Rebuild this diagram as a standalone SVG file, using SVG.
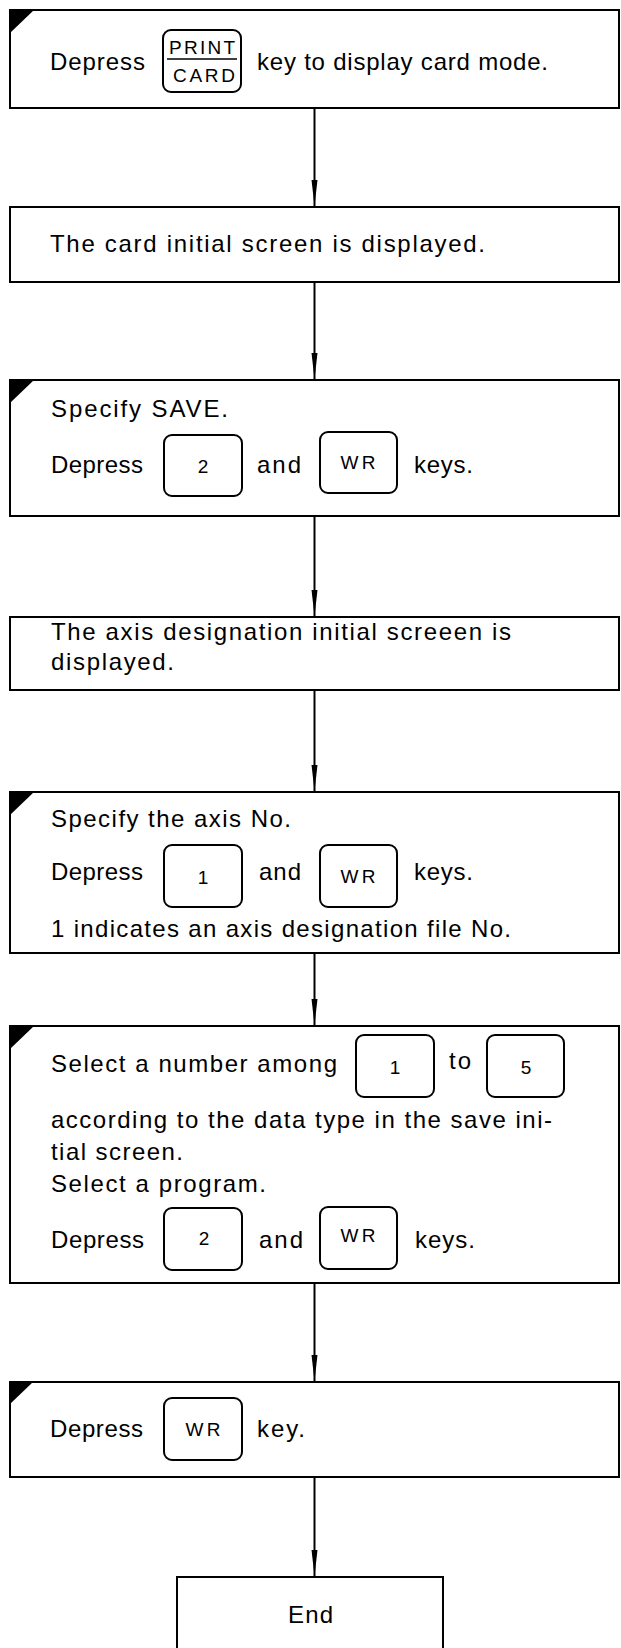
<svg xmlns="http://www.w3.org/2000/svg" width="621" height="1648" viewBox="0 0 621 1648">
  <style>
    .box { fill: #fff; stroke: #000; stroke-width: 2; }
    .key { fill: #fff; stroke: #000; stroke-width: 2; }
    .corner { fill: #000; }
    .t { font-family: "Liberation Sans", Arial, Helvetica, sans-serif; font-size: 24px; fill: #000; }
    .k { font-family: "Liberation Sans", Arial, Helvetica, sans-serif; font-size: 19px; fill: #000; text-anchor: middle; }
    .wire { stroke: #000; stroke-width: 2; fill: none; marker-end: url(#head); }
  </style>
  <defs>
    <marker id="head" markerUnits="userSpaceOnUse" viewBox="0 0 26 8" refX="26" refY="4" markerWidth="26" markerHeight="8" orient="auto">
      <path d="M0,1 L26,4 L0,7 Z" fill="#000"/>
    </marker>
  </defs>

  <rect width="621" height="1648" fill="#fff"/>

  <!-- connectors -->
  <g id="connectors">
    <line class="wire" x1="314.5" y1="108" x2="314.5" y2="206"/>
    <line class="wire" x1="314.5" y1="282" x2="314.5" y2="379"/>
    <line class="wire" x1="314.5" y1="516" x2="314.5" y2="616"/>
    <line class="wire" x1="314.5" y1="690" x2="314.5" y2="791"/>
    <line class="wire" x1="314.5" y1="953" x2="314.5" y2="1025"/>
    <line class="wire" x1="314.5" y1="1283" x2="314.5" y2="1381"/>
    <line class="wire" x1="314.5" y1="1477" x2="314.5" y2="1576"/>
  </g>

  <!-- step 1 -->
  <g id="step-print-card">
    <rect class="box" x="10" y="10" width="609" height="98"/>
    <path class="corner" d="M10,10 H34 L10,33 Z"/>
    <text class="t" x="50" y="70" textLength="95" lengthAdjust="spacing">Depress</text>
    <rect class="key" x="163" y="30" width="78" height="62" rx="8"/>
    <text class="k" x="202" y="54" textLength="66" lengthAdjust="spacing">PRINT</text>
    <line x1="167" y1="59" x2="237" y2="59" stroke="#000" stroke-width="1.5"/>
    <text class="k" x="204" y="82" textLength="62" lengthAdjust="spacing">CARD</text>
    <text class="t" x="257" y="70" textLength="291" lengthAdjust="spacing">key to display card mode.</text>
  </g>

  <!-- step 2 -->
  <g id="step-card-screen">
    <rect class="box" x="10" y="207" width="609" height="75"/>
    <text class="t" x="50" y="252" textLength="435" lengthAdjust="spacing">The card initial screen is displayed.</text>
  </g>

  <!-- step 3 -->
  <g id="step-save">
    <rect class="box" x="10" y="380" width="609" height="136"/>
    <path class="corner" d="M10,380 H34 L10,403 Z"/>
    <text class="t" x="51" y="417" textLength="177" lengthAdjust="spacing">Specify SAVE.</text>
    <text class="t" x="51" y="473" textLength="92" lengthAdjust="spacing">Depress</text>
    <rect class="key" x="164" y="435" width="78" height="61" rx="8"/>
    <text class="k" x="203" y="473">2</text>
    <text class="t" x="257" y="473" textLength="44" lengthAdjust="spacing">and</text>
    <rect class="key" x="320" y="432" width="77" height="61" rx="8"/>
    <text class="k" x="358" y="469" textLength="35" lengthAdjust="spacing">WR</text>
    <text class="t" x="414" y="473" textLength="59" lengthAdjust="spacing">keys.</text>
  </g>

  <!-- step 4 -->
  <g id="step-axis-screen">
    <rect class="box" x="10" y="617" width="609" height="73"/>
    <text class="t" x="51" y="640" textLength="460" lengthAdjust="spacing">The axis designation initial screeen is</text>
    <text class="t" x="51" y="670" textLength="123" lengthAdjust="spacing">displayed.</text>
  </g>

  <!-- step 5 -->
  <g id="step-axis-no">
    <rect class="box" x="10" y="792" width="609" height="161"/>
    <path class="corner" d="M10,792 H34 L10,815 Z"/>
    <text class="t" x="51" y="827" textLength="240" lengthAdjust="spacing">Specify the axis No.</text>
    <text class="t" x="51" y="880" textLength="92" lengthAdjust="spacing">Depress</text>
    <rect class="key" x="164" y="845" width="78" height="62" rx="8"/>
    <text class="k" x="203" y="884">1</text>
    <text class="t" x="259" y="880" textLength="42" lengthAdjust="spacing">and</text>
    <rect class="key" x="320" y="845" width="77" height="62" rx="8"/>
    <text class="k" x="358" y="883" textLength="35" lengthAdjust="spacing">WR</text>
    <text class="t" x="414" y="880" textLength="59" lengthAdjust="spacing">keys.</text>
    <text class="t" x="51" y="937" textLength="460" lengthAdjust="spacing">1 indicates an axis designation file No.</text>
  </g>

  <!-- step 6 -->
  <g id="step-data-type">
    <rect class="box" x="10" y="1026" width="609" height="257"/>
    <path class="corner" d="M10,1026 H34 L10,1049 Z"/>
    <text class="t" x="51" y="1072" textLength="286" lengthAdjust="spacing">Select a number among</text>
    <rect class="key" x="356" y="1035" width="78" height="62" rx="8"/>
    <text class="k" x="395" y="1074">1</text>
    <text class="t" x="449" y="1069" textLength="22" lengthAdjust="spacing">to</text>
    <rect class="key" x="487" y="1035" width="77" height="62" rx="8"/>
    <text class="k" x="526" y="1074">5</text>
    <text class="t" x="51" y="1128" textLength="501" lengthAdjust="spacing">according to the data type in the save ini-</text>
    <text class="t" x="51" y="1160" textLength="132" lengthAdjust="spacing">tial screen.</text>
    <text class="t" x="51" y="1192" textLength="215" lengthAdjust="spacing">Select a program.</text>
    <text class="t" x="51" y="1248" textLength="93" lengthAdjust="spacing">Depress</text>
    <rect class="key" x="164" y="1208" width="78" height="62" rx="8"/>
    <text class="k" x="204" y="1245">2</text>
    <text class="t" x="259" y="1248" textLength="44" lengthAdjust="spacing">and</text>
    <rect class="key" x="320" y="1207" width="77" height="62" rx="8"/>
    <text class="k" x="358" y="1242" textLength="35" lengthAdjust="spacing">WR</text>
    <text class="t" x="415" y="1248" textLength="60" lengthAdjust="spacing">keys.</text>
  </g>

  <!-- step 7 -->
  <g id="step-write">
    <rect class="box" x="10" y="1382" width="609" height="95"/>
    <path class="corner" d="M10,1382 H33 L10,1404 Z"/>
    <text class="t" x="50" y="1437" textLength="93" lengthAdjust="spacing">Depress</text>
    <rect class="key" x="164" y="1398" width="78" height="62" rx="8"/>
    <text class="k" x="203" y="1436" textLength="35" lengthAdjust="spacing">WR</text>
    <text class="t" x="257" y="1437" textLength="48" lengthAdjust="spacing">key.</text>
  </g>

  <!-- terminator -->
  <g id="end">
    <rect class="box" x="177" y="1577" width="266" height="90"/>
    <text class="t" x="288" y="1623" textLength="45" lengthAdjust="spacing">End</text>
  </g>
</svg>
